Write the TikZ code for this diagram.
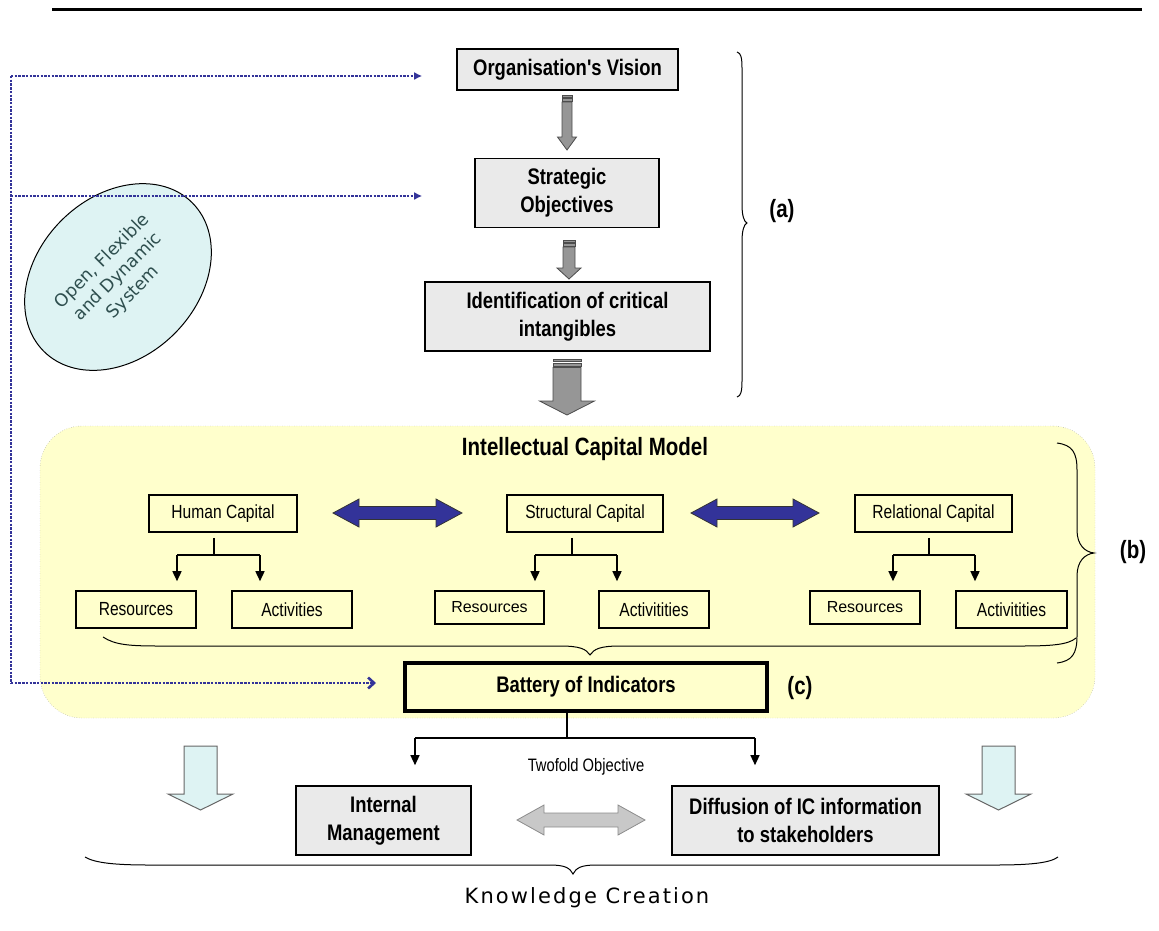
\documentclass[tikz,border=0pt]{standalone}
\usepackage{fontspec}
\setmainfont{Liberation Sans}[FakeStretch=0.82,Ligatures=TeXOff]
\newfontfamily\widesans{Liberation Sans}[Ligatures=TeXOff]
\newfontfamily\verdsans{DejaVu Sans}
\newfontfamily\verdspaced{DejaVu Sans}[LetterSpace=10]
\usetikzlibrary{arrows.meta,calc,shapes.geometric}

\definecolor{navy}{RGB}{51,51,153}
\definecolor{paleyellow}{RGB}{255,255,204}
\definecolor{boxgray}{RGB}{234,234,234}
\definecolor{arrowgray}{RGB}{150,150,150}
\definecolor{lightarrow}{RGB}{200,200,200}
\definecolor{palecyan}{RGB}{222,243,243}
\definecolor{slate}{RGB}{47,79,79}

% vertical block arrow: style, x, top, head start, tip, shaft half width, head half width
\newcommand{\blockdown}[7]{%
  \draw[#1] (#2-#6,#3) -- (#2+#6,#3) -- (#2+#6,#4) -- (#2+#7,#4) -- (#2,#5)
    -- (#2-#7,#4) -- (#2-#6,#4) -- cycle;}
% horizontal two-headed block arrow: style, left tip, right tip, y, head length, shaft half height, head half height
\newcommand{\blockboth}[7]{%
  \draw[#1] (#2,#4) -- (#2+#5,#4-#7) -- (#2+#5,#4-#6) -- (#3-#5,#4-#6) -- (#3-#5,#4-#7)
    -- (#3,#4) -- (#3-#5,#4+#7) -- (#3-#5,#4+#6) -- (#2+#5,#4+#6) -- (#2+#5,#4+#7) -- cycle;}

\begin{document}
\begin{tikzpicture}[x=1pt,y=-1pt,
  topbox/.style={draw, line width=1.6pt, fill=boxgray, align=center, inner sep=0pt,
    font=\bfseries\fontsize{22.5}{28}\selectfont},
  capbox/.style={draw, line width=1.6pt, inner sep=0pt, font=\fontsize{19}{23}\selectfont},
  smallbox/.style={draw, line width=1.6pt, inner sep=0pt, font=\widesans\fontsize{16}{19}\selectfont},
  wire/.style={line width=1.5pt},
  downtip/.style={-{Triangle[length=10pt,width=9pt]}},
  feedback/.style={navy, line width=2.6pt, dash pattern=on 2.4pt off 1.3pt},
  brace/.style={line width=1pt},
  tag/.style={font=\bfseries\fontsize{25}{28}\selectfont},
  striped/.style={fill=arrowgray, draw=black!70, line width=0.8pt},
  twoway/.style={fill=navy, draw=black!80, line width=0.8pt},
  pale/.style={fill=palecyan, draw=black!60, line width=1pt},
]
\useasboundingbox (0,0) rectangle (1159,930);

% header rule
\draw[line width=3pt] (52,9) -- (1142,9);

% strategic chain
\node[topbox, minimum width=221pt, minimum height=41pt] (vision) at (567.5,69.5) {Organisation's Vision};
\node[topbox, minimum width=184pt, minimum height=69pt] (strat) at (567,193) {Strategic\\Objectives};
\node[topbox, minimum width=285pt, minimum height=69pt] (ident) at (567.5,316.5) {Identification of critical\\intangibles};

% striped arrows between the steps
\fill[arrowgray, draw=black!70, line width=0.6pt] (562,95) rectangle (572,97);
\fill[arrowgray, draw=black!70, line width=0.6pt] (562,98.5) rectangle (572,101);
\blockdown{striped}{567}{102}{137}{150}{5}{9.5}
\fill[arrowgray, draw=black!70, line width=0.6pt] (563,240) rectangle (575,242);
\fill[arrowgray, draw=black!70, line width=0.6pt] (563,243.5) rectangle (575,246);
\blockdown{striped}{569}{247}{268}{279}{6}{12}
\fill[arrowgray, draw=black!70, line width=0.6pt] (553,359) rectangle (581,361.5);
\fill[arrowgray, draw=black!70, line width=0.6pt] (553,363) rectangle (581,366);
\blockdown{striped}{567}{367.5}{401}{415}{14}{27.5}

% brace (a)
\draw[brace] (737,52) .. controls (741,53) and (742,58) .. (742,68) -- (742,205)
  .. controls (742,215) and (744,222) .. (747,223) .. controls (744,224) and (742,231) .. (742,241)
  -- (742,381) .. controls (742,391) and (741,396) .. (737,397);
\node[tag] (taga) at (782,211) {(a)};

% system ellipse
\node[draw, ellipse, fill=palecyan, line width=1pt, minimum width=210pt, minimum height=160pt,
  rotate=45, inner sep=0pt, align=center, text=slate,
  font=\verdsans\fontsize{17.5}{22}\selectfont] (ofds) at (118,277) {Open, Flexible\\and Dynamic\\System};

% intellectual capital model panel
\node[draw=black!45, dotted, fill=paleyellow, rounded corners=42pt,
  minimum width=1055pt, minimum height=292pt] (icm) at (567.5,572) {};
\node[font=\bfseries\fontsize{25}{29}\selectfont] (icmtitle) at (585,449) {Intellectual Capital Model};

\node[capbox, minimum width=148pt, minimum height=37pt] (hc) at (223,513.5) {Human Capital};
\node[capbox, minimum width=156pt, minimum height=37pt] (sc) at (585,513.5) {Structural Capital};
\node[capbox, minimum width=157pt, minimum height=37pt] (rc) at (933.5,513.5) {Relational Capital};

\node[capbox, minimum width=120pt, minimum height=37pt] (hres) at (136,609.5) {Resources};
\node[capbox, minimum width=120pt, minimum height=37pt] (hact) at (292,609.5) {Activities};
\node[smallbox, minimum width=109pt, minimum height=33pt] (sres) at (489.5,607.5) {Resources};
\node[capbox, minimum width=110pt, minimum height=37pt] (sact) at (654,609.5) {Activitities};
\node[smallbox, minimum width=110pt, minimum height=33pt] (rres) at (865,607.5) {Resources};
\node[capbox, minimum width=111pt, minimum height=37pt] (ract) at (1011.5,609.5) {Activitities};

\blockboth{twoway}{333}{462}{513}{26}{6.5}{14}
\blockboth{twoway}{691}{819}{513}{26}{6.5}{14}

% capital trees
\coordinate (hj) at (214,555); \coordinate (hl) at (177,555); \coordinate (hr) at (260,555);
\coordinate (sj) at (572,555); \coordinate (sl) at (535,555); \coordinate (sr) at (617,555);
\coordinate (rj) at (929,555); \coordinate (rl) at (893,555); \coordinate (rr) at (975,555);
\draw[wire, shorten <=5pt] (hj |- hc.south) -- (hj);
\draw[wire] (hl) -- (hr);
\draw[wire, downtip, shorten >=9pt] (hl) -- (hl |- hres.north);
\draw[wire, downtip, shorten >=9pt] (hr) -- (hr |- hact.north);
\draw[wire, shorten <=5pt] (sj |- sc.south) -- (sj);
\draw[wire] (sl) -- (sr);
\draw[wire, downtip, shorten >=9pt] (sl) -- (sl |- sres.north);
\draw[wire, downtip, shorten >=9pt] (sr) -- (sr |- sact.north);
\draw[wire, shorten <=5pt] (rj |- rc.south) -- (rj);
\draw[wire] (rl) -- (rr);
\draw[wire, downtip, shorten >=9pt] (rl) -- (rl |- rres.north);
\draw[wire, downtip, shorten >=9pt] (rr) -- (rr |- ract.north);

% brace under the capital components
\draw[brace] (103,637) .. controls (115,645) and (130,646) .. (160,646) -- (560,646)
  .. controls (580,646) and (586,649) .. (590,655) .. controls (594,649) and (600,646) .. (620,646)
  -- (1020,646) .. controls (1050,646) and (1068,645) .. (1076,638);

% brace (b)
\draw[brace] (1057,443) .. controls (1072,445) and (1077,452) .. (1077,470) -- (1077,530)
  .. controls (1077,545) and (1085,552) .. (1094,553) .. controls (1085,554) and (1077,561) .. (1077,576)
  -- (1077,636) .. controls (1077,654) and (1072,661) .. (1057,663);
\node[tag] (tagb) at (1133,552) {(b)};

% battery of indicators
\node[draw, line width=4pt, minimum width=362pt, minimum height=48pt, inner sep=0pt,
  font=\bfseries\fontsize{22.5}{26}\selectfont] (batt) at (586,687) {Battery of Indicators};
\node[tag] (tagc) at (800,688) {(c)};

% feedback links from the open system
\coordinate (fbtop) at (11,76);
\coordinate (fbmid) at (11,196);
\coordinate (fbbot) at (11,683);
\draw[feedback] (fbtop) -- (fbbot);
\draw[feedback, -{Latex[length=8pt,width=8pt]}, shorten >=34pt] (fbtop) -- (fbtop -| vision.west);
\draw[feedback, -{Latex[length=8pt,width=8pt]}, shorten >=52pt] (fbmid) -- (fbmid -| strat.west);
\draw[feedback, -{Straight Barb[length=6pt,width=11pt]}, shorten >=27pt] (fbbot) -- (fbbot -| batt.west);

% twofold objective
\node[topbox, minimum width=175pt, minimum height=69pt] (im) at (383.5,820.5) {Internal\\Management};
\node[topbox, minimum width=267pt, minimum height=69pt] (dif) at (805.5,820.5) {Diffusion of IC information\\to stakeholders};
\coordinate (bj) at (567,738); \coordinate (bl) at (415,738); \coordinate (br) at (755,738);
\draw[line width=1.3pt] (bj |- batt.south) -- (bj);
\draw[line width=1.3pt] (bl) -- (br);
\draw[line width=1.3pt, downtip, shorten >=20pt] (bl) -- (bl |- im.north);
\draw[line width=1.3pt, downtip, shorten >=20pt] (br) -- (br |- dif.north);
\node[font=\fontsize{18}{20}\selectfont] (twofold) at (586,767) {Twofold Objective};

\blockboth{fill=lightarrow, draw=black!45, line width=0.8pt}{517}{645}{820}{27}{7}{15}

% pale arrows at the sides
\blockdown{pale}{200.5}{746}{794}{810}{16.5}{32.5}
\blockdown{pale}{998.5}{746}{794}{810}{16.5}{32.5}

% knowledge creation brace
\draw[brace] (85,857) .. controls (95,863) and (115,865) .. (150,865) -- (550,865)
  .. controls (565,865) and (570,868) .. (573,874) .. controls (576,868) and (581,865) .. (596,865)
  -- (995,865) .. controls (1030,865) and (1050,863) .. (1058,857);
\node[font=\verdspaced\fontsize{21}{24}\selectfont] (know) at (587,898) {Knowledge Creation};
\end{tikzpicture}
\end{document}
